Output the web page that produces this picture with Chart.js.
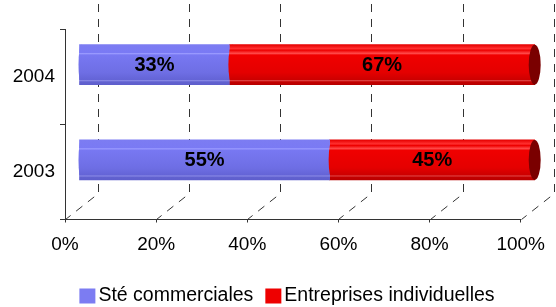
<!DOCTYPE html>
<html>
<head>
<meta charset="utf-8">
<script src="https://cdn.jsdelivr.net/npm/chart.js@4"></script>
<style>
  body { margin: 0; background: #fff; }
  canvas { display: block; }
</style>
</head>
<body>
<canvas id="chart" width="556" height="307"></canvas>
<script>
// data
const years = ["2004", "2003"];
const seriesNames = ["Sté commerciales", "Entreprises individuelles"];
const commerciales = [33, 55];
const individuelles = [67, 45];
const xTicks = [0, 20, 40, 60, 80, 100];

const FONT = "Arial, 'Liberation Sans', sans-serif";
const BAR = 40;
// back wall offset and bar offset for the fake 3D
const DX = 33, DY = -26;
const BX = 14, BY = -12;

const blueStops = [[0, "#7c7cf2"], [0.2, "#7a7af4"], [0.22, "#9a9aff"], [0.26, "#7878f2"], [0.7, "#6e6ee4"], [0.88, "#6464d6"], [0.9, "#8c8ce8"], [0.93, "#6262d0"], [1, "#5e5ecc"]];
const redStops = [[0, "#e60000"], [0.1, "#ff3030"], [0.14, "#ee0000"], [0.22, "#ff4a4a"], [0.26, "#f00000"], [0.7, "#e40000"], [0.88, "#cc0000"], [0.9, "#e04a4a"], [0.93, "#c40000"], [1, "#b80000"]];
const legendColors = ["#7c7cf2", "#ee0000"];

function cylinder(stops, flat) {
  return (c) => {
    const chart = c.chart;
    const y = chart.scales.y;
    if (!chart.chartArea || !y || c.dataIndex === undefined) return flat;
    const cy = y.getPixelForValue(c.dataIndex);
    if (!isFinite(cy)) return flat;
    const g = chart.ctx.createLinearGradient(0, cy - BAR / 2, 0, cy + BAR / 2);
    stops.forEach(s => g.addColorStop(s[0], s[1]));
    return g;
  };
}

const depth = {
  id: "depth",
  beforeDatasetsDraw(chart) {
    const { ctx, scales: { x } } = chart;
    ctx.save();
    ctx.strokeStyle = "#333";
    ctx.lineWidth = 1;
    ctx.setLineDash([8, 7]);
    x.ticks.forEach(t => {
      const fx = Math.round(x.getPixelForValue(t.value)) + 0.5;
      ctx.beginPath();
      ctx.moveTo(fx + DX, 4);
      ctx.lineTo(fx + DX, x.top + DY);
      ctx.lineTo(fx, x.top);
      ctx.stroke();
    });
    ctx.restore();
    ctx.save();
    ctx.translate(BX, BY);
  },
  afterDatasetsDraw(chart) {
    const ctx = chart.ctx;
    const blue = chart.getDatasetMeta(0).data;
    const red = chart.getDatasetMeta(1).data;
    blue.forEach(el => {
      ctx.fillStyle = el.options.backgroundColor;
      ctx.beginPath();
      ctx.ellipse(el.base + 2, el.y, 3, BAR / 2, 0, 0, Math.PI * 2);
      ctx.fill();
    });
    red.forEach(el => {
      ctx.fillStyle = el.options.backgroundColor;
      ctx.beginPath();
      ctx.ellipse(el.base + 3, el.y, 4, BAR / 2, 0, 0, Math.PI * 2);
      ctx.fill();
      ctx.fillStyle = "#7a0000";
      ctx.beginPath();
      ctx.ellipse(el.x, el.y, 6, BAR / 2, 0, 0, Math.PI * 2);
      ctx.fill();
    });
    ctx.fillStyle = "#000";
    ctx.font = "bold 20px " + FONT;
    ctx.textAlign = "center";
    ctx.textBaseline = "middle";
    [blue, red].forEach((els, i) => {
      const values = chart.data.datasets[i].data;
      els.forEach((el, j) => {
        ctx.fillText(values[j] + "%", (el.x + el.base) / 2, el.y + 1);
      });
    });
    ctx.restore();
  },
  afterDraw(chart) {
    const ctx = chart.ctx;
    ctx.save();
    ctx.font = "19.5px " + FONT;
    ctx.textBaseline = "middle";
    ctx.textAlign = "left";
    const box = 16, gap = 3, spacing = 12;
    const widths = seriesNames.map(n => ctx.measureText(n).width);
    const total = widths.reduce((s, w) => s + box + gap + w, 0) + spacing;
    let lx = chart.width / 2 + 9 - total / 2;
    const ly = 296;
    seriesNames.forEach((n, i) => {
      ctx.fillStyle = legendColors[i];
      ctx.fillRect(lx, ly - 7.5, box, 15);
      ctx.fillStyle = "#000";
      ctx.fillText(n, lx + box + gap, ly);
      lx += box + gap + widths[i] + spacing;
    });
    ctx.restore();
  }
};

new Chart(document.getElementById("chart"), {
  type: "bar",
  data: {
    labels: years,
    datasets: [
      { label: seriesNames[0], data: commerciales, backgroundColor: cylinder(blueStops, "#7777ee") },
      { label: seriesNames[1], data: individuelles, backgroundColor: cylinder(redStops, "#ee0000") }
    ]
  },
  options: {
    indexAxis: "y",
    responsive: false,
    animation: false,
    layout: { padding: { left: 0, right: 34, top: 29, bottom: 47.5 } },
    datasets: { bar: { barThickness: BAR, borderWidth: 0, clip: false } },
    plugins: { legend: { display: false }, tooltip: { enabled: false } },
    scales: {
      x: {
        stacked: true,
        min: 0,
        max: 100,
        afterBuildTicks: s => { s.ticks = xTicks.map(v => ({ value: v })); },
        afterFit: s => { s.height = 40; },
        grid: { drawOnChartArea: false, tickLength: 3, color: "#333" },
        border: { color: "#333" },
        ticks: { padding: 11, color: "#000", font: { family: FONT, size: 19 }, callback: v => v + "%" }
      },
      y: {
        stacked: true,
        afterFit: s => { s.width = 65; },
        grid: { drawOnChartArea: false, tickLength: 5, color: "#333" },
        border: { color: "#333" },
        ticks: { padding: 5, color: "#000", font: { family: FONT, size: 19 } }
      }
    }
  },
  plugins: [depth]
});
</script>
</body>
</html>
